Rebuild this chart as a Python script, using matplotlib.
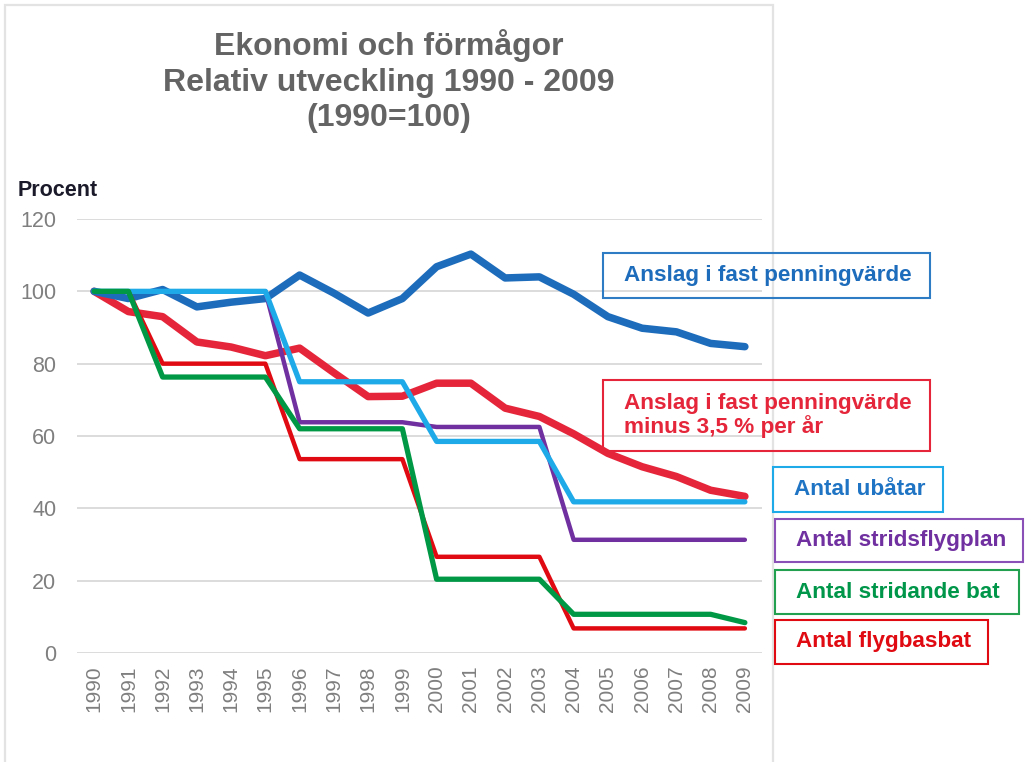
import matplotlib
matplotlib.use("Agg")
import matplotlib.pyplot as plt
from matplotlib.patches import Rectangle

plt.rcParams['font.family'] = ['Liberation Sans', 'DejaVu Sans']

# Data (1990 = 100)
years = list(range(1990, 2010))
anslag = [100, 98, 100.5, 95.7, 97, 98, 104.5, 99.5, 94, 98, 106.8, 110.3,
          103.7, 104, 99.2, 93, 89.8, 88.8, 85.6, 84.7]
anslag_minus = [100, 94.4, 93, 86, 84.6, 82.2, 84.3, 77.5, 70.9, 71, 74.6, 74.6,
                67.7, 65.4, 60.6, 55.2, 51.5, 48.8, 45, 43.3]
ubatar = [100, 100, 100, 100, 100, 100, 75, 75, 75, 75, 58.5, 58.5,
          58.5, 58.5, 41.8, 41.8, 41.8, 41.8, 41.8, 41.8]
stridsflygplan = [100, 100, 100, 100, 100, 100, 63.8, 63.8, 63.8, 63.8, 62.5, 62.5,
                  62.5, 62.5, 31.3, 31.3, 31.3, 31.3, 31.3, 31.3]
stridande_bat = [100, 100, 76.3, 76.3, 76.3, 76.3, 62, 62, 62, 62, 20.4, 20.4,
                 20.4, 20.4, 10.7, 10.7, 10.7, 10.7, 10.7, 8.4]
flygbasbat = [100, 100, 80, 80, 80, 80, 53.6, 53.6, 53.6, 53.6, 26.6, 26.6,
              26.6, 26.6, 6.8, 6.8, 6.8, 6.8, 6.8, 6.8]

W, H = 1027, 762
fig = plt.figure(figsize=(W / 100, H / 100), dpi=100)


def fx(x):
    return x / W


def fy(y):
    return 1 - y / H


# light outer frame
fig.add_artist(Rectangle((fx(5), fy(800)), fx(773) - fx(5), fy(5) - fy(800),
                         transform=fig.transFigure, fill=False,
                         edgecolor='#e3e3e3', lw=1.6))

ax = fig.add_axes([fx(77), fy(653), fx(762) - fx(77), fy(219) - fy(653)])
ax.set_xlim(1989.5, 2009.5)
ax.set_ylim(0, 120)
ax.set_yticks([0, 20, 40, 60, 80, 100, 120])
ax.set_xticks(years)
ax.set_xticklabels([str(y) for y in years], rotation=90)
ax.tick_params(axis='y', length=0, pad=15, labelsize=15.5, labelcolor='#7f7f7f')
ax.tick_params(axis='x', length=0, pad=9, labelsize=15, labelcolor='#7f7f7f')
ax.grid(axis='y', color='#d9d9d9', lw=1.3)
ax.set_axisbelow(True)
for s in ax.spines.values():
    s.set_visible(False)

kw = dict(solid_capstyle='round', solid_joinstyle='round', clip_on=False)
ax.plot(years, anslag_minus, color='#E5263A', lw=5.4, zorder=3, **kw)
ax.plot(years, anslag, color='#1D6CBC', lw=5.4, zorder=3, **kw)
ax.plot(years, stridsflygplan, color='#7030A0', lw=3.2, zorder=4, **kw)
ax.plot(years, ubatar, color='#1EAAE8', lw=3.8, zorder=5, **kw)
ax.plot(years, flygbasbat, color='#E00B12', lw=3.2, zorder=6, **kw)
ax.plot(years, stridande_bat, color='#009845', lw=3.8, zorder=7, **kw)

fig.text(fx(389), fy(81), "Ekonomi och förmågor\nRelativ utveckling 1990 - 2009\n(1990=100)",
         ha='center', va='center', fontsize=23, fontweight='bold',
         color='#646464', linespacing=1.26)
fig.text(fx(18), fy(190), "Procent", ha='left', va='center', fontsize=15.5,
         fontweight='bold', color='#1a1a2a')

# series labels in boxes
labels = [
    ("Anslag i fast penningvärde", '#1D6CBC', '#2E7CC4', (603, 253, 930, 298)),
    ("Anslag i fast penningvärde\nminus 3,5 % per år", '#E5263A', '#E5263A', (603, 380, 930, 451)),
    ("Antal ubåtar", '#1F74C4', '#1EAAE8', (773, 467, 943, 512)),
    ("Antal stridsflygplan", '#7030A0', '#8A50B8', (775, 519, 1023, 562)),
    ("Antal stridande bat", '#00964A', '#22A050', (775, 570, 1019, 614)),
    ("Antal flygbasbat", '#E00B12', '#E00B12', (775, 620, 988, 664)),
]
for text, tcol, ecol, (x0, y0, x1, y1) in labels:
    fig.add_artist(Rectangle((fx(x0), fy(y1)), fx(x1) - fx(x0), fy(y0) - fy(y1),
                             transform=fig.transFigure, fill=False,
                             edgecolor=ecol, lw=1.5))
    fig.text(fx(x0 + 21), fy((y0 + y1) / 2), text, ha='left', va='center',
             fontsize=16.2, fontweight='bold', color=tcol, linespacing=1.08)

fig.savefig("out.png", dpi=100)
